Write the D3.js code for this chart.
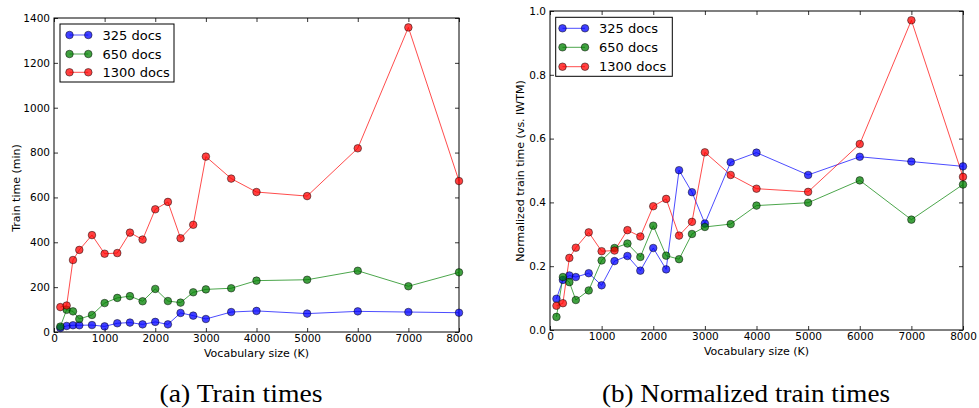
<!DOCTYPE html>
<html><head><meta charset="utf-8">
<script src="https://cdn.jsdelivr.net/npm/d3@7"></script>
<style>body{margin:0;background:#fff}svg{display:block}</style>
</head><body>
<svg id="c" width="979" height="408"></svg>
<script>
const vocab = [125,250,375,500,750,1000,1250,1500,1750,2000,2250,2500,2750,3000,3500,4000,5000,6000,7000,8000];
const seriesNames = ["325 docs","650 docs","1300 docs"];
const seriesColors = ["#0000ff","#008000","#ff0000"];
// (a) Train times (min)
const train325  = [18,27,30,30,31,25,39,42,34,45,34,85,73,58,89,94,82,92,89,86];
const train650  = [24,99,92,58,76,129,152,160,137,192,138,131,177,190,195,229,233,273,204,266];
const train1300 = [111,118,321,366,432,349,352,443,412,547,580,418,478,782,684,624,606,819,1358,673];
// (b) Normalized train times (vs. IWTM)
const norm325  = [0.098,0.157,0.171,0.166,0.178,0.140,0.216,0.232,0.186,0.257,0.190,0.501,0.432,0.334,0.526,0.556,0.486,0.543,0.528,0.513];
const norm650  = [0.041,0.166,0.150,0.094,0.124,0.218,0.257,0.271,0.229,0.327,0.233,0.222,0.301,0.323,0.332,0.390,0.399,0.469,0.346,0.456];
const norm1300 = [0.076,0.084,0.226,0.258,0.306,0.247,0.249,0.313,0.293,0.388,0.411,0.296,0.339,0.557,0.486,0.443,0.433,0.583,0.971,0.480];
const xTicks = [0,1000,2000,3000,4000,5000,6000,7000,8000];
const yTicksA = [0,200,400,600,800,1000,1200,1400];
const yTicksB = [0,0.2,0.4,0.6,0.8,1.0];

const svg = d3.select("#c");
const FONT = "DejaVu Sans, sans-serif";

function panel(cfg){
  const x = d3.scaleLinear().domain([0,8000]).range([cfg.l, cfg.r]);
  const y = d3.scaleLinear().domain(cfg.yDomain).range([cfg.b, cfg.t]);
  const g = svg.append("g");
  const tl = 4;
  const bx = g.append("g").attr("transform",`translate(0,${cfg.b})`)
    .call(d3.axisBottom(x).tickValues(xTicks).tickSize(-tl).tickPadding(3).tickFormat(d3.format("d")));
  const tx = g.append("g").attr("transform",`translate(0,${cfg.t})`)
    .call(d3.axisTop(x).tickValues(xTicks).tickSize(-tl).tickFormat(""));
  const ly = g.append("g").attr("transform",`translate(${cfg.l},0)`)
    .call(d3.axisLeft(y).tickValues(cfg.yTicks).tickSize(-tl).tickPadding(4).tickFormat(cfg.fmtY));
  const ry = g.append("g").attr("transform",`translate(${cfg.r},0)`)
    .call(d3.axisRight(y).tickValues(cfg.yTicks).tickSize(-tl).tickFormat(""));
  [bx,tx,ly,ry].forEach(a=>{
    a.select(".domain").remove();
    a.selectAll(".tick line").attr("stroke","#000").attr("stroke-width",0.8);
    a.selectAll("text").attr("font-family",FONT).attr("font-size",10.5).attr("fill","#000");
  });
  g.append("rect").attr("x",cfg.l).attr("y",cfg.t).attr("width",cfg.r-cfg.l).attr("height",cfg.b-cfg.t)
    .attr("fill","none").attr("stroke","#000").attr("stroke-width",1);
  const line = d3.line().x((d,i)=>x(vocab[i])).y(d=>y(d));
  cfg.series.forEach((s,k)=>{
    g.append("path").datum(s).attr("d",line).attr("fill","none")
      .attr("stroke",seriesColors[k]).attr("stroke-opacity",0.7).attr("stroke-width",1);
  });
  cfg.series.forEach((s,k)=>{
    g.selectAll(null).data(s).enter().append("circle")
      .attr("cx",(d,i)=>x(vocab[i])).attr("cy",d=>y(d)).attr("r",3.8)
      .attr("fill",seriesColors[k]).attr("fill-opacity",0.75)
      .attr("stroke","#000").attr("stroke-opacity",0.6).attr("stroke-width",0.8);
  });
  g.append("text").attr("x",(cfg.l+cfg.r)/2).attr("y",cfg.b+25).attr("text-anchor","middle")
    .attr("font-family",FONT).attr("font-size",11).text("Vocabulary size (K)");
  g.append("text").attr("transform",`translate(${cfg.ylx},${cfg.yly}) rotate(-90)`).attr("text-anchor","middle")
    .attr("dy","0.35em").attr("font-family",FONT).attr("font-size",11).text(cfg.ylabel);
  const L = cfg.leg;
  g.append("rect").attr("x",L.x).attr("y",L.y).attr("width",L.w).attr("height",L.h)
    .attr("fill","#fff").attr("stroke","#000").attr("stroke-width",1);
  seriesNames.forEach((n,k)=>{
    const yy = L.rows[k];
    g.append("line").attr("x1",L.lx1).attr("x2",L.lx2).attr("y1",yy).attr("y2",yy)
      .attr("stroke",seriesColors[k]).attr("stroke-opacity",0.7).attr("stroke-width",1);
    [L.lx1,L.lx2].forEach(cx=>g.append("circle").attr("cx",cx).attr("cy",yy).attr("r",3.8)
      .attr("fill",seriesColors[k]).attr("fill-opacity",0.75)
      .attr("stroke","#000").attr("stroke-opacity",0.6).attr("stroke-width",0.8));
    g.append("text").attr("x",L.tx).attr("y",yy).attr("dy","0.36em")
      .attr("font-family",FONT).attr("font-size",13).text(n);
  });
  svg.append("text").attr("x",cfg.capX).attr("y",402).attr("text-anchor","middle")
    .attr("font-family","Liberation Serif, serif").attr("font-size",25)
    .attr("textLength",cfg.capW).attr("lengthAdjust","spacingAndGlyphs").text(cfg.caption);
}

panel({l:54,r:459,t:18,b:332,yDomain:[0,1400],yTicks:yTicksA,fmtY:d3.format("d"),
  series:[train325,train650,train1300],ylabel:"Train time (min)",ylx:16,yly:188,
  leg:{x:60,y:24,w:114,h:58,rows:[35,54,72.3],lx1:69.5,lx2:88.3,tx:102.5},
  caption:"(a) Train times",capX:241,capW:163});
panel({l:550,r:963,t:11,b:330,yDomain:[0,1],yTicks:yTicksB,fmtY:d3.format(".1f"),
  series:[norm325,norm650,norm1300],ylabel:"Normalized train time (vs. IWTM)",ylx:520,yly:171,
  leg:{x:555.7,y:17.3,w:116.6,h:59,rows:[28.3,47.3,66.7],lx1:562.5,lx2:585,tx:599},
  caption:"(b) Normalized train times",capX:746,capW:288});
</script>
</body></html>
